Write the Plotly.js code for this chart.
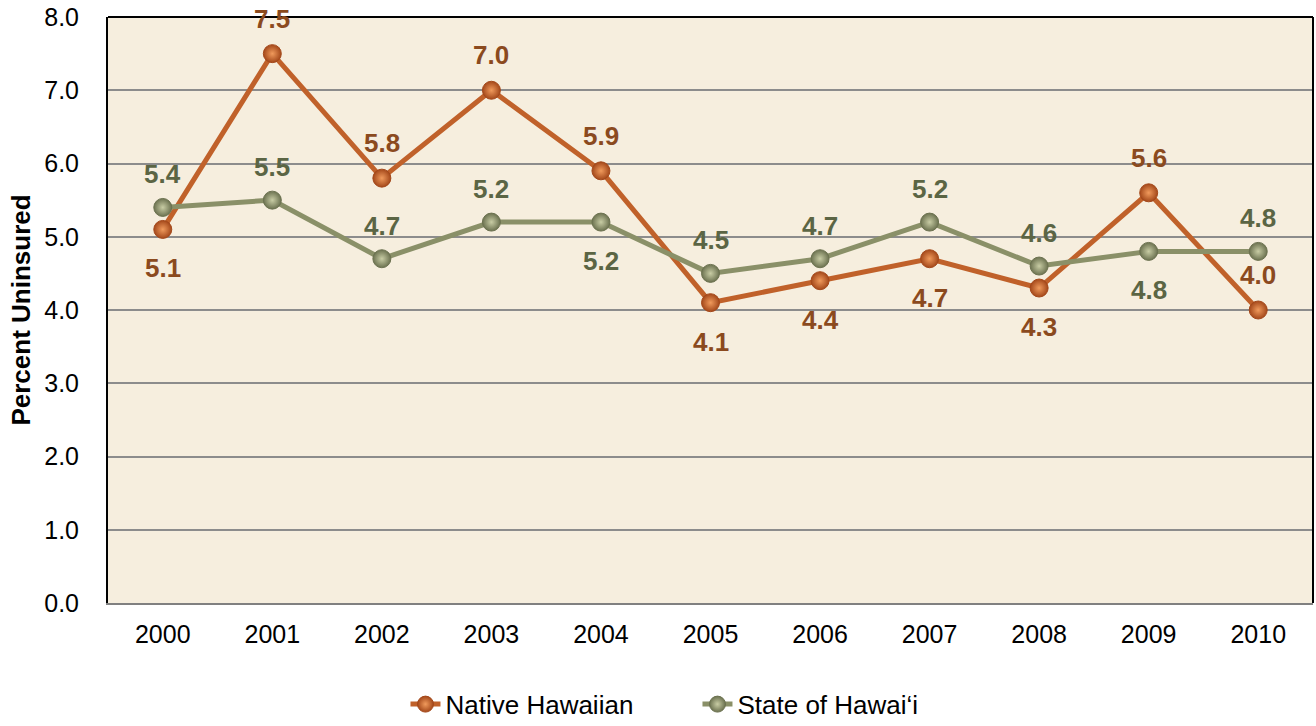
<!DOCTYPE html>
<html><head><meta charset="utf-8">
<script src="https://cdn.plot.ly/plotly-3.0.1.min.js"></script>
<style>html,body{margin:0;padding:0;background:#fff}#chart{width:1316px;height:726px}</style>
</head><body><div id="chart"></div>
<script>
const years = ['2000','2001','2002','2003','2004','2005','2006','2007','2008','2009','2010'];
const nativeHawaiian = [5.1, 7.5, 5.8, 7.0, 5.9, 4.1, 4.4, 4.7, 4.3, 5.6, 4.0];
const stateHawaii = [5.4, 5.5, 4.7, 5.2, 5.2, 4.5, 4.7, 5.2, 4.6, 4.8, 4.8];
const nativeLabelAbove = [false, true, true, true, true, false, false, false, false, true, true];
const stateLabelAbove = [true, true, true, true, false, true, true, true, true, false, true];

const nativeColor = '#C0612A', nativeText = '#8B4A1E';
const stateColor = '#8A9068', stateText = '#5B6544';
const font = 'Liberation Sans, Arial, Helvetica, sans-serif';

function mk(name, ys, col, light, dark) {
  return {
    type: 'scatter', mode: 'lines+markers', name: name, x: years, y: ys,
    line: {color: col, width: 5},
    marker: {size: 18, color: dark, gradient: {type: 'radial', color: light}, line: {color: dark, width: 1}},
    hoverinfo: 'skip'
  };
}
const traces = [
  mk('Native Hawaiian', nativeHawaiian, nativeColor, '#F09A5C', '#A4481A'),
  mk('State of Hawai‘i', stateHawaii, stateColor, '#C8CCA4', '#6C7250')
];

const annotations = [];
years.forEach((yr, i) => {
  annotations.push({x: i, y: nativeHawaiian[i], xref: 'x', yref: 'y', text: nativeHawaiian[i].toFixed(1),
    showarrow: false, yshift: nativeLabelAbove[i] ? 35 : -39,
    font: {family: font, size: 26, color: nativeText}});
  annotations.push({x: i, y: stateHawaii[i], xref: 'x', yref: 'y', text: stateHawaii[i].toFixed(1),
    showarrow: false, yshift: stateLabelAbove[i] ? 33 : -39,
    font: {family: font, size: 26, color: stateText}});
});
annotations.forEach(a => { a.text = '<b>' + a.text + '</b>'; });

const layout = {
  width: 1316, height: 726,
  margin: {l: 108, r: 3, t: 17, b: 123, autoexpand: false},
  paper_bgcolor: '#ffffff', plot_bgcolor: '#F6EEDE',
  font: {family: font, color: '#000'},
  xaxis: {type: 'category', range: [-0.5, 10.5], showgrid: false, zeroline: false,
    showline: true, linecolor: '#808080', linewidth: 2, mirror: false,
    ticks: '', tickfont: {size: 25, family: font, color: '#000'}, ticklabelstandoff: 8},
  yaxis: {range: [0, 8], dtick: 1, tickformat: '.1f', showgrid: true, gridcolor: '#8C8C8C', gridwidth: 2,
    zeroline: false, showline: true, linecolor: '#000', linewidth: 2, ticks: '',
    tickfont: {size: 25, family: font, color: '#000'}, ticklabelstandoff: 22,
    title: {text: '<b>Percent Uninsured</b>', font: {size: 26, family: font, color: '#000'}, standoff: 6}},
  shapes: [
    {type: 'line', xref: 'paper', yref: 'paper', x0: 0, x1: 1, y0: 1, y1: 1, line: {color: '#000', width: 2}},
    {type: 'line', xref: 'paper', yref: 'paper', x0: 1, x1: 1, y0: 0, y1: 1, line: {color: '#000', width: 2}}
  ],
  annotations: annotations,
  showlegend: true,
  legend: {orientation: 'h', x: 0.53, xanchor: 'center', xref: 'container', yref: 'container', y: 0.03, yanchor: 'middle',
    font: {size: 26, family: font, color: '#000'}, entrywidth: 247, tracegroupgap: 0, bgcolor: 'rgba(0,0,0,0)'},
};
Plotly.newPlot('chart', traces, layout, {displayModeBar: false, staticPlot: true});
</script></body></html>
